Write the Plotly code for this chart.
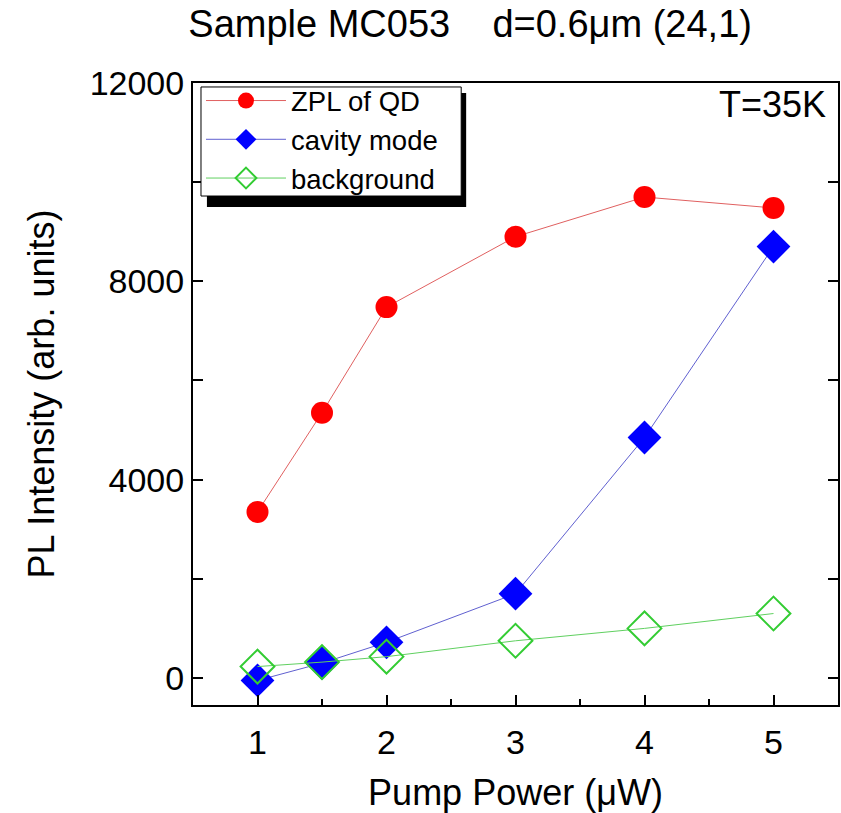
import plotly.graph_objects as go

pump = [1, 1.5, 2, 3, 4, 5]
zpl = [3350, 5350, 7480, 8900, 9700, 9480]
cavity = [-50, 300, 720, 1700, 4850, 8700]
background = [230, 320, 430, 750, 1000, 1300]

FONT = "Arial, Liberation Sans, sans-serif"

fig = go.Figure()
fig.add_trace(go.Scatter(x=pump, y=zpl, name="ZPL of QD", mode="lines+markers",
                         line=dict(color="#e06060", width=1),
                         marker=dict(symbol="circle", size=22, color="#ff0000")))
fig.add_trace(go.Scatter(x=pump, y=cavity, name="cavity mode", mode="lines+markers",
                         line=dict(color="#6060d0", width=1),
                         marker=dict(symbol="diamond", size=26, color="#0000ff")))
fig.add_trace(go.Scatter(x=pump, y=background, name="background", mode="lines+markers",
                         line=dict(color="#60d060", width=1),
                         marker=dict(symbol="diamond-open", size=26, color="#33cc33",
                                     line=dict(width=2, color="#33cc33"))))

fig.update_layout(
    width=841, height=813,
    margin=dict(l=193, r=1, t=83, b=108),
    paper_bgcolor="white", plot_bgcolor="white",
    font=dict(family=FONT, color="black"),
    title=dict(text="Sample MC053    d=0.6\u03bcm (24,1)", x=0.559, xanchor="center",
               y=0.971, yanchor="middle", font=dict(size=38, family=FONT)),
    showlegend=True,
    legend=dict(x=0.0124, y=1.011, xanchor="left", yanchor="top",
                bgcolor="rgba(0,0,0,0)", borderwidth=0,
                font=dict(size=27.5, family=FONT), itemwidth=80,
                tracegroupgap=0),
    xaxis=dict(range=[0.5, 5.5], tickvals=[1, 2, 3, 4, 5],
               ticks="inside", ticklen=10, tickwidth=1.5, tickcolor="black",
               minor=dict(dtick=0.5, ticks="inside", ticklen=6, tickcolor="black", tickwidth=1.5),
               showline=True, linecolor="black", linewidth=2, mirror=True,
               showgrid=False, zeroline=False, ticklabelstandoff=6,
               tickfont=dict(size=34, family=FONT),
               title=dict(text="Pump Power (\u03bcW)", font=dict(size=36, family=FONT), standoff=22)),
    yaxis=dict(range=[-545, 12000], tickvals=[0, 4000, 8000, 12000], tickformat="d",
               ticks="inside", ticklen=10, tickwidth=1.5, tickcolor="black",
               minor=dict(dtick=2000, ticks="inside", ticklen=10, tickcolor="black", tickwidth=1.5),
               showline=True, linecolor="black", linewidth=2, mirror="ticks",
               showgrid=False, zeroline=False,
               tickfont=dict(size=34, family=FONT),
               title=dict(text="PL Intensity (arb. units)", font=dict(size=36, family=FONT), standoff=24)),
)

# legend frame with drop shadow
fig.add_shape(type="rect", xref="paper", yref="paper",
              x0=0.0216, x1=0.4235, y0=0.8006, y1=0.984,
              fillcolor="black", line=dict(width=0), layer="above")
fig.add_shape(type="rect", xref="paper", yref="paper",
              x0=0.0124, x1=0.4158, y0=0.8183, y1=0.9936,
              fillcolor="white", line=dict(width=1, color="black"), layer="above")

fig.add_annotation(text="T=35K", xref="paper", yref="paper", x=0.985, y=0.965,
                   xanchor="right", yanchor="middle", showarrow=False,
                   font=dict(size=36, family=FONT))

fig.write_html("out.html")
